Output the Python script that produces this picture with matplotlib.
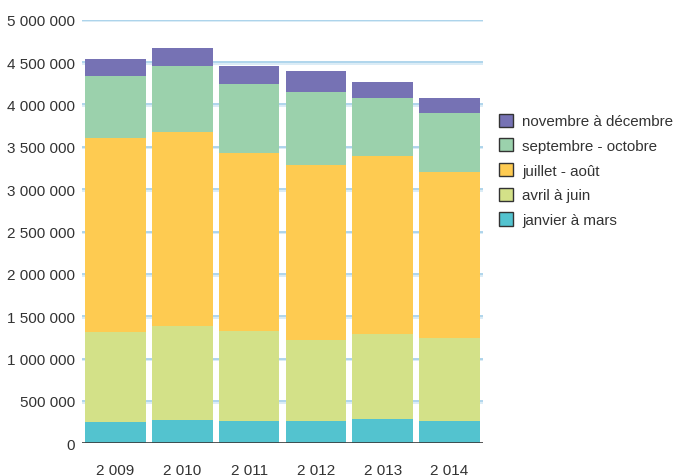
import matplotlib
matplotlib.use("Agg")
import matplotlib.pyplot as plt
import matplotlib.patheffects as pe
from matplotlib.patches import Patch
from matplotlib.ticker import FuncFormatter
import numpy as np

plt.rcParams['font.family'] = ['Liberation Sans', 'DejaVu Sans']

years = ["2 009", "2 010", "2 011", "2 012", "2 013", "2 014"]
labels = ["janvier à mars", "avril à juin", "juillet - août",
          "septembre - octobre", "novembre à décembre"]
colors = ["#53c3cf", "#d3e188", "#fecb51", "#9bd1ac", "#7672b4"]

janvier_mars = [254000, 278000, 266000, 266000, 290000, 266000]
avril_juin = [1056000, 1111000, 1056000, 949000, 996000, 981000]
juillet_aout = [2289000, 2281000, 2100000, 2075000, 2100000, 1950000]
sept_oct = [733000, 780000, 816000, 852000, 684000, 697000]
nov_dec = [201000, 213000, 212000, 248000, 190000, 186000]
series = [janvier_mars, avril_juin, juillet_aout, sept_oct, nov_dec]

fig = plt.figure(figsize=(6.77, 4.77), dpi=100)
ax = fig.add_axes([82 / 677, 1 - 444.3 / 477, 401 / 677, 423.6 / 477])

x = np.arange(len(years))
bottom = np.zeros(len(years))
for vals, col in zip(series, colors):
    ax.bar(x, vals, width=0.91, bottom=bottom, color=col, zorder=3)
    bottom += np.array(vals)

ax.set_xlim(-0.5, 5.5)
ax.set_ylim(0, 5000000)
ax.set_yticks(np.arange(0, 5000001, 500000))
ax.yaxis.set_major_formatter(
    FuncFormatter(lambda v, p: f"{int(v):,}".replace(",", " ")))
ax.set_xticks(x)
ax.set_xticklabels(years)

for s in ax.spines.values():
    s.set_visible(False)

shadow = [pe.SimpleLineShadow(offset=(0, -1.2), shadow_color="#d8eaf6",
                              alpha=1), pe.Normal()]
for v in np.arange(500000, 5000001, 500000):
    ax.axhline(v, color="#a9d2ea", lw=1.3, zorder=0.5, path_effects=shadow)
ax.axhline(0, color="#3a3a3a", lw=1.2, zorder=4,
           path_effects=[pe.SimpleLineShadow(offset=(0, -1.5),
                                             shadow_color="#b0b0b0", alpha=1),
                         pe.Normal()])

ax.tick_params(axis="y", length=0, pad=5, labelsize=11, labelcolor="#333333")
ax.tick_params(axis="x", length=0, pad=14, labelsize=11, labelcolor="#333333")

handles = [Patch(facecolor=c, edgecolor="#333333", lw=1, label=l)
           for c, l in zip(colors, labels)][::-1]
fig.legend(handles=handles, loc="upper left",
           bbox_to_anchor=(491 / 677, 1 - 107 / 477), frameon=False,
           fontsize=10.9, handlelength=0.95, handleheight=0.95,
           handletextpad=0.6, labelspacing=0.66, borderpad=0,
           labelcolor="#333333")

fig.savefig("out.png", dpi=100)
